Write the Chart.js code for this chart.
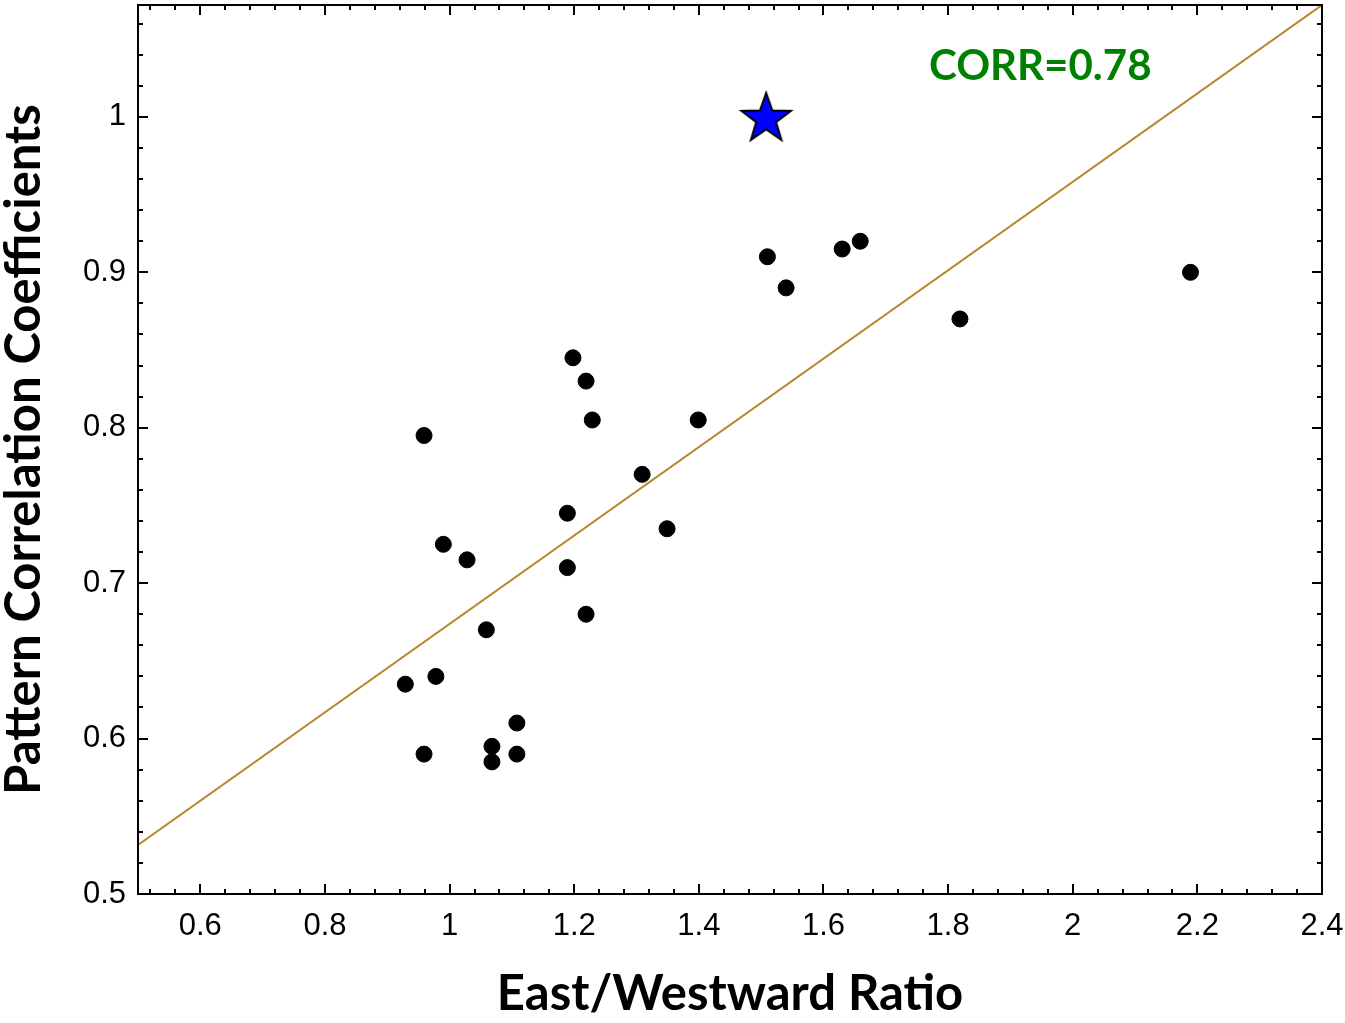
<!DOCTYPE html>
<html lang="en">
<head>
    <meta charset="UTF-8">
    <title>Pattern Correlation vs East/Westward Ratio</title>
    <script src="https://cdn.jsdelivr.net/npm/chart.js@4.4.0/dist/chart.umd.min.js"></script>
    <style>
        body { margin: 0; background: #ffffff; }
        #wrap { width: 1345px; height: 1023px; position: relative; }
    </style>
</head>
<body>
<div id="wrap"><canvas id="chart"></canvas></div>
<script>
    // Model points
    var ratioX = [0.929, 0.959, 0.959, 0.978, 0.990, 1.028, 1.059, 1.068, 1.068, 1.108, 1.108,
                  1.189, 1.189, 1.198, 1.219, 1.229, 1.219, 1.309, 1.349, 1.399,
                  1.510, 1.540, 1.630, 1.659, 1.819, 2.189];
    var corrY  = [0.635, 0.590, 0.795, 0.640, 0.725, 0.715, 0.670, 0.595, 0.585, 0.610, 0.590,
                  0.745, 0.710, 0.845, 0.830, 0.805, 0.680, 0.770, 0.735, 0.805,
                  0.910, 0.890, 0.915, 0.920, 0.870, 0.900];
    // Observation (star)
    var obsX = [1.508];
    var obsY = [1.0];
    // Regression line end points
    var fitX = [0.5, 2.4];
    var fitY = [0.5315, 1.072];
    // Axis ticks
    var xTicks = [0.6, 0.8, 1.0, 1.2, 1.4, 1.6, 1.8, 2.0, 2.2, 2.4];
    var yTicks = [0.5, 0.6, 0.7, 0.8, 0.9, 1.0];
    var corrLabel = 'CORR=0.78';

    function zip(xs, ys) { return xs.map(function (x, i) { return {x: x, y: ys[i]}; }); }

    // Filled star marker
    var star = document.createElement('canvas');
    star.width = 56; star.height = 56;
    (function () {
        var c = star.getContext('2d');
        var cx = 28, cy = 30, ro = 26, ri = 10.5;
        c.beginPath();
        for (var i = 0; i < 10; i++) {
            var r = i % 2 === 0 ? ro : ri;
            var a = -Math.PI / 2 + i * Math.PI / 5;
            var px = cx + r * Math.cos(a), py = cy + r * Math.sin(a);
            if (i === 0) c.moveTo(px, py); else c.lineTo(px, py);
        }
        c.closePath();
        c.fillStyle = '#0000ff';
        c.fill();
        c.lineWidth = 2;
        c.strokeStyle = '#000000';
        c.stroke();
    })();

    // Frame with inward major/minor ticks on all sides, plus the CORR label
    var framePlugin = {
        id: 'frame',
        afterDraw: function (chart) {
            var ctx = chart.ctx, a = chart.chartArea;
            var xs = chart.scales.x, ys = chart.scales.y;
            ctx.save();
            ctx.strokeStyle = '#000';
            ctx.lineWidth = 2;
            var v, p, len;
            for (v = 0.52; v < 2.4001; v += 0.04) {
                p = Math.round(xs.getPixelForValue(v));
                len = Math.abs(Math.round(v * 100) % 20) < 0.5 ? 10 : 5;
                ctx.beginPath();
                ctx.moveTo(p, a.bottom); ctx.lineTo(p, a.bottom - len);
                ctx.moveTo(p, a.top); ctx.lineTo(p, a.top + len);
                ctx.stroke();
            }
            for (v = 0.52; v < 1.072; v += 0.02) {
                p = Math.round(ys.getPixelForValue(v));
                len = Math.abs(Math.round(v * 100) % 10) < 0.5 ? 10 : 5;
                ctx.beginPath();
                ctx.moveTo(a.left, p); ctx.lineTo(a.left + len, p);
                ctx.moveTo(a.right, p); ctx.lineTo(a.right - len, p);
                ctx.stroke();
            }
            ctx.strokeRect(a.left, a.top, a.right - a.left, a.bottom - a.top);

            ctx.fillStyle = '#008000';
            ctx.font = 'bold 42px Lato, "Open Sans", sans-serif';
            ctx.textAlign = 'left';
            ctx.textBaseline = 'alphabetic';
            ctx.fillText(corrLabel, 929, 80);
            ctx.restore();
        }
    };

    var tickFont = {family: '"Liberation Sans", Arial, sans-serif', size: 31};
    var titleFont = {family: 'Lato, "Open Sans", sans-serif', size: 49, weight: 'bold', lineHeight: 1};

    new Chart(document.getElementById('chart'), {
        type: 'scatter',
        data: {
            datasets: [{
                type: 'line',
                data: zip(fitX, fitY),
                borderColor: '#b8862b',
                borderWidth: 2,
                pointRadius: 0,
                fill: false,
                order: 3
            }, {
                data: zip(ratioX, corrY),
                backgroundColor: '#000',
                borderColor: '#000',
                pointRadius: 8,
                order: 2
            }, {
                data: zip(obsX, obsY),
                pointStyle: star,
                order: 1
            }]
        },
        options: {
            responsive: true,
            maintainAspectRatio: false,
            animation: false,
            layout: {autoPadding: false, padding: {top: 5, right: 23, left: 0, bottom: 0}},
            plugins: {legend: {display: false}, tooltip: {enabled: false}},
            scales: {
                x: {
                    type: 'linear', min: 0.5, max: 2.4,
                    grid: {display: false, drawTicks: false},
                    border: {display: false},
                    afterBuildTicks: function (s) { s.ticks = xTicks.map(function (v) { return {value: v}; }); },
                    afterFit: function (s) { s.height = 129; s.paddingLeft = 0; s.paddingRight = 0; },
                    ticks: {
                        color: '#000', font: tickFont, padding: 14, maxRotation: 0,
                        callback: function (v) { return String(Math.round(v * 10) / 10); }
                    },
                    title: {display: true, text: 'East/Westward Ratio', color: '#000', font: titleFont, padding: {top: 28}}
                },
                y: {
                    type: 'linear', min: 0.5, max: 1.072,
                    grid: {display: false, drawTicks: false},
                    border: {display: false},
                    afterBuildTicks: function (s) { s.ticks = yTicks.map(function (v) { return {value: v}; }); },
                    afterFit: function (s) { s.width = 138; s.paddingTop = 0; s.paddingBottom = 0; },
                    ticks: {
                        color: '#000', font: tickFont, padding: 12,
                        callback: function (v) { return String(Math.round(v * 10) / 10); }
                    },
                    title: {display: true, text: 'Pattern Correlation Coefficients', color: '#000', font: titleFont, padding: {top: 0, bottom: 0}}
                }
            }
        },
        plugins: [framePlugin]
    });
</script>
</body>
</html>
